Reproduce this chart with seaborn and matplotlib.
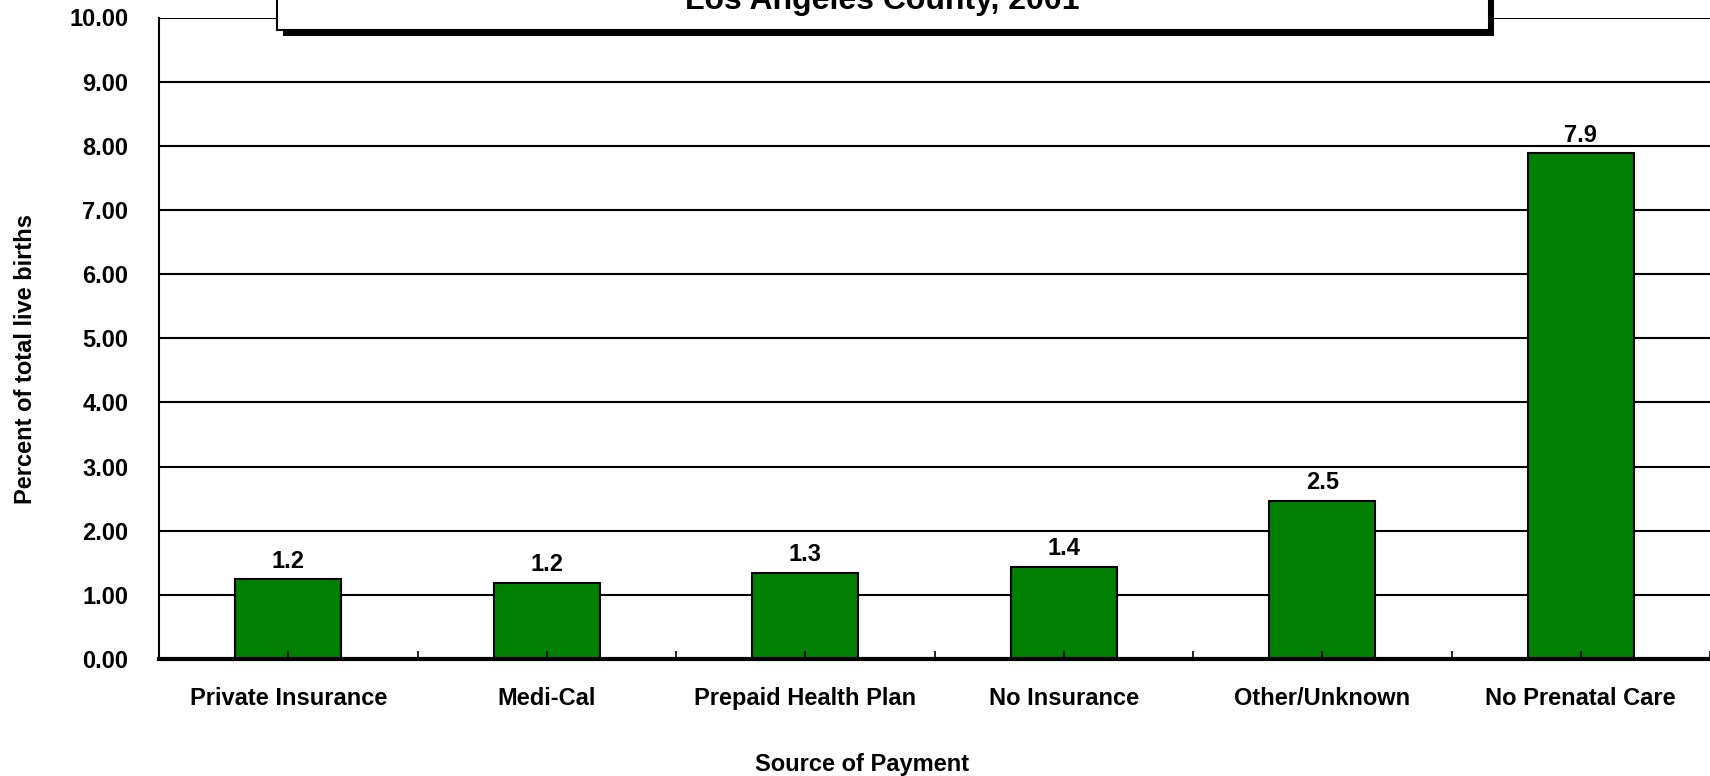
import pandas as pd
import matplotlib.pyplot as plt
import matplotlib.patches as mpatches
from matplotlib.ticker import MultipleLocator, FixedLocator
import seaborn as sns

categories = ["Private Insurance", "Medi-Cal", "Prepaid Health Plan",
              "No Insurance", "Other/Unknown", "No Prenatal Care"]
percent = [1.24, 1.19, 1.34, 1.44, 2.47, 7.88]
title = "Los Angeles County, 2001"

df = pd.DataFrame({"Source": categories, "Percent": percent})

sns.set_style("white")
plt.rcParams["font.family"] = ["Liberation Sans", "DejaVu Sans"]
plt.rcParams["font.weight"] = "bold"
plt.rcParams["text.color"] = "black"
plt.rcParams["xtick.color"] = "black"
plt.rcParams["ytick.color"] = "black"

fig = plt.figure(figsize=(17.1, 7.76), dpi=100)
ax = fig.add_axes([159 / 1710, 1 - 659 / 776, 1 - 159 / 1710, (659 - 17.5) / 776])

sns.barplot(data=df, x="Source", y="Percent", color="#008000", saturation=1,
            width=0.41, edgecolor="black", linewidth=1.5, ax=ax)

ax.set_xlim(-0.5, 5.5)
ax.set_ylim(0, 10)
ax.yaxis.set_major_locator(MultipleLocator(1))
ax.yaxis.set_major_formatter(lambda v, p: f"{v:.2f}")
ax.xaxis.set_minor_locator(FixedLocator([i + 0.5 for i in range(-1, 6)]))

ax.grid(axis="y", color="black", linewidth=1.5)
# gridlines behind the bars, x ticks on top of them
ax.yaxis.set_zorder(0.5)
ax.xaxis.set_zorder(2.5)
for s in ["top", "right"]:
    ax.spines[s].set_visible(False)
ax.spines["left"].set_linewidth(1.5)
ax.spines["left"].set_color("black")
ax.spines["bottom"].set_linewidth(3)
ax.spines["bottom"].set_color("black")

ax.tick_params(axis="x", which="both", direction="in", length=6, width=1.2,
               color="black", bottom=True, pad=20, labelsize=17)
ax.tick_params(axis="y", length=0, pad=22, labelsize=17)
for lab in ax.get_xticklabels() + ax.get_yticklabels():
    lab.set_fontweight("bold")
    lab.set_color("black")

ax.bar_label(ax.containers[0], fmt="%.1f", padding=5, fontsize=17,
             fontweight="bold", color="black")

ax.set_xlabel("")
ax.set_ylabel("")
fig.text(26 / 1710, 1 - 359 / 776, "Percent of total live births", rotation=90,
         ha="center", va="center", fontsize=17, fontweight="bold")
fig.text(862 / 1710, 1 - 764 / 776, "Source of Payment", ha="center", va="center",
         fontsize=17, fontweight="bold")

# title box, cut off at the top as in the source
shadow = mpatches.Rectangle((283 / 1710, 1 - 36 / 776), (1494 - 283) / 1710, 0.2,
                            transform=fig.transFigure, facecolor="black",
                            edgecolor="none", zorder=10)
box = mpatches.Rectangle((277 / 1710, 1 - 30 / 776), (1489 - 277) / 1710, 0.2,
                         transform=fig.transFigure, facecolor="white",
                         edgecolor="black", linewidth=1.5, zorder=11)
fig.patches.extend([shadow, box])
fig.text(882 / 1710, 1 - 9 / 776, title, ha="center", va="baseline",
         fontsize=23, fontweight="bold", zorder=12)

fig.savefig("out.png", dpi=100)
